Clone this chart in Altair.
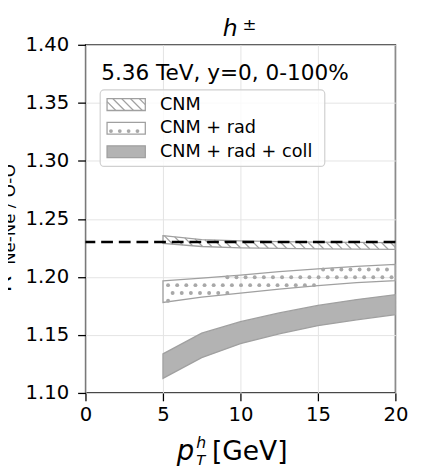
import altair as alt
import pandas as pd
import numpy as np

# ---------------- data ----------------
pt = [5, 7.5, 10, 12.5, 15, 17.5, 20]
cnm_lo = [1.2288, 1.2262, 1.2250, 1.2245, 1.2242, 1.2240, 1.2238]
cnm_hi = [1.2355, 1.2322, 1.2310, 1.2304, 1.2300, 1.2297, 1.2295]
rad_lo = [1.1780, 1.1825, 1.1860, 1.1895, 1.1925, 1.1950, 1.1968]
rad_hi = [1.1965, 1.1990, 1.2015, 1.2045, 1.2070, 1.2090, 1.2108]
coll_lo = [1.1126, 1.1304, 1.1425, 1.1510, 1.1580, 1.1630, 1.1675]
coll_hi = [1.1337, 1.1515, 1.1614, 1.1690, 1.1754, 1.1805, 1.1847]
oo_ref = [1.23]
x_ticks = [0, 5, 10, 15, 20]
y_ticks = [1.10, 1.15, 1.20, 1.25, 1.30, 1.35, 1.40]
legend_labels = ["CNM", "CNM + rad", "CNM + rad + coll"]
annotation = "5.36 TeV, y=0, 0-100%"

# ---------------- layout ----------------
W, H = 316, 355
XD, YD = [0, 20], [1.10, 1.40]
px_x = W / (XD[1] - XD[0])
px_y = H / (YD[1] - YD[0])
FONT = "DejaVu Sans"
GRAY = "#a0a0a0"

xs_ = alt.Scale(domain=XD, nice=False, zero=False)
ys_ = alt.Scale(domain=YD, nice=False, zero=False)
common_axis = dict(title=None, grid=True, gridColor="#e3e3e3", gridWidth=1, domain=False,
                   ticks=True, tickColor="black", tickSize=8, tickWidth=1.3,
                   labelFont=FONT, labelFontSize=20, labelColor="black",
                   labelFlush=False, labelOverlap=False)
xaxis = alt.Axis(values=x_ticks, format="d", labelPadding=4, **common_axis)
yaxis = alt.Axis(values=y_ticks, format=".2f", labelPadding=9, **common_axis)


def X(f):
    return alt.X(f, type="quantitative", scale=xs_, axis=xaxis)


def Y(f):
    return alt.Y(f, type="quantitative", scale=ys_, axis=yaxis)


def band(lo, hi, fill, opacity):
    df = pd.DataFrame({"pt": pt, "lo": lo, "hi": hi})
    return alt.Chart(df).mark_area(fill=fill, fillOpacity=opacity, stroke=GRAY,
                                   strokeWidth=1.3, interpolate="linear").encode(
        x=X("pt"), y=Y("hi"), y2=alt.Y2("lo"))


# hatch lines "\\" for the CNM band (45 degrees on screen)
slope = px_x / px_y
fine = np.linspace(pt[0], pt[-1], 3001)
lo_f = np.interp(fine, pt, cnm_lo)
hi_f = np.interp(fine, pt, cnm_hi)
dc = 0.59 * slope
rows = []
c = cnm_lo[0] + slope * pt[0]
while c < cnm_hi[-1] + slope * pt[-1] + dc:
    line = c - slope * fine
    m = (line <= hi_f) & (line >= lo_f)
    if m.any():
        xa, xb = fine[m][0], fine[m][-1]
        rows.append({"x": xa, "y": c - slope * xa, "x2": xb, "y2": c - slope * xb})
    c += dc
hatch_df = pd.DataFrame(rows)
hatch = alt.Chart(hatch_df).mark_rule(color=GRAY, strokeWidth=1.3).encode(
    x=X("x"), x2="x2", y=Y("y"), y2="y2")

# dot pattern for the CNM + rad band (staggered grid)
dxg, dyg = 9.3 / px_x, 8.0 / px_y
rr = 0.6 / px_y
rx = 2.0 / px_x
dots = []
for k in range(-5, 6):
    yv = 1.1929 + k * dyg
    xv = pt[0] + 0.33 + (k % 2) * dxg / 2
    while xv < pt[-1]:
        lo_v = np.interp(xv, pt, rad_lo)
        hi_v = np.interp(xv, pt, rad_hi)
        if lo_v + rr <= yv <= hi_v - rr and pt[0] + rx <= xv <= pt[-1] - rx:
            dots.append({"x": xv, "y": yv})
        xv += dxg
dot_df = pd.DataFrame(dots)
dot_layer = alt.Chart(dot_df).mark_circle(size=16, color="#a8a8a8", opacity=1).encode(
    x=X("x"), y=Y("y"))

dash = alt.Chart(pd.DataFrame({"y": oo_ref})).mark_rule(
    color="black", strokeWidth=2.5, strokeDash=[12, 6]).encode(y=Y("y"))


# ---------------- decorations in pixel space ----------------
def ptext(text, x, y, size, style="normal", align="left", baseline="alphabetic", angle=0):
    return alt.Chart(pd.DataFrame({"t": [text]})).mark_text(
        font=FONT, fontSize=size, fontStyle=style, align=align, baseline=baseline,
        angle=angle, color="black").encode(x=alt.value(x), y=alt.value(y), text="t:N")


def pscale(f):
    return dict(scale=None, axis=None, field=f, type="quantitative")


# legend box
legend_box = alt.Chart(pd.DataFrame({"a": [0]})).mark_rect(
    fill="white", fillOpacity=0.8, stroke="#d0d0d0", strokeWidth=1.2, cornerRadius=4).encode(
    x=alt.value(15), x2=alt.value(244), y=alt.value(46), y2=alt.value(124))

patch_x0, patch_x1 = 22, 61
patch_y = [55, 79, 103]
patch_h = 12
patches = []
for i, (fill, op) in enumerate([("white", 0), ("white", 0), ("#b3b3b3", 1)]):
    patches.append(alt.Chart(pd.DataFrame({"a": [i]})).mark_rect(
        fill=fill, fillOpacity=op, stroke=GRAY, strokeWidth=1.3).encode(
        x=alt.value(patch_x0), x2=alt.value(patch_x1),
        y=alt.value(patch_y[i]), y2=alt.value(patch_y[i] + patch_h)))

# legend hatch lines
lh = []
y0, y1 = patch_y[0], patch_y[0] + patch_h
for s in np.arange(patch_x0 - patch_h, patch_x1, 9.0):
    xa, ya = s, y0
    xb, yb = s + patch_h, y1
    if xa < patch_x0:
        ya = y0 + (patch_x0 - xa)
        xa = patch_x0
    if xb > patch_x1:
        yb = y1 - (xb - patch_x1)
        xb = patch_x1
    if xb > xa:
        lh.append({"x": xa, "y": ya, "x2": xb, "y2": yb})
leg_hatch = alt.Chart(pd.DataFrame(lh)).mark_rule(color=GRAY, strokeWidth=1.2).encode(
    x=alt.X(**pscale("x")), x2="x2", y=alt.Y(**pscale("y")), y2="y2")

ld = [{"x": 26 + 9 * j, "y": patch_y[1] + 9} for j in range(4)]
leg_dots = alt.Chart(pd.DataFrame(ld)).mark_circle(size=15, color="#a8a8a8", opacity=1).encode(
    x=alt.X(**pscale("x")), y=alt.Y(**pscale("y")))

leg_texts = [ptext(lbl, 76, patch_y[i] + 6, 18, baseline="middle")
             for i, lbl in enumerate(legend_labels)]

texts = [
    ptext(annotation, 16, 36, 22),
    ptext("h", 140, -9, 24, style="italic"),
    ptext("±", 160, -15, 17),
    ptext("p", 93, 423, 28, style="italic"),
    ptext("h", 113, 411, 16, style="italic"),
    ptext("T", 113, 428, 15, style="italic"),
    ptext("[GeV]", 129, 423, 27),
    ptext("Ne-Ne / O-O", -72, 173, 17, align="center", angle=270),
    ptext("R", -76, 244, 24, align="center", angle=270),
]

chart = alt.layer(
    band(coll_lo, coll_hi, "#b3b3b3", 1),
    band(rad_lo, rad_hi, "white", 0),
    dot_layer,
    band(cnm_lo, cnm_hi, "white", 0),
    hatch,
    dash,
    legend_box,
    *patches,
    leg_hatch,
    leg_dots,
    *leg_texts,
    *texts,
).properties(
    width=W, height=H,
    autosize=alt.AutoSizeParams(type="none"),
    padding={"left": 79, "top": 33, "right": 20, "bottom": 72},
).configure_view(stroke="black", strokeWidth=1.4)

chart.save("out.html", embed_options={"renderer": "svg", "actions": False})
